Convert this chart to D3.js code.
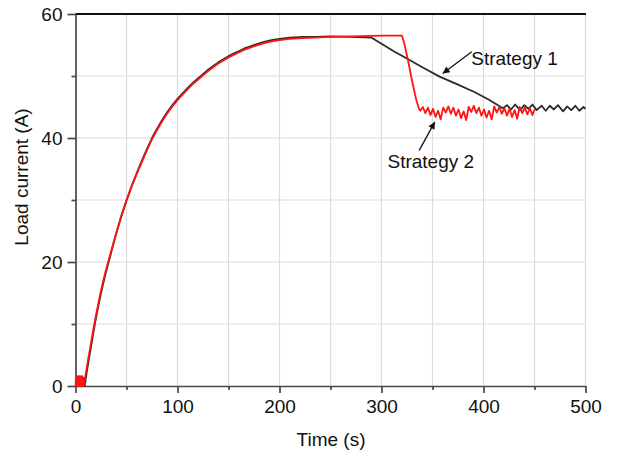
<!DOCTYPE html>
<html>
<head>
<meta charset="utf-8">
<script src="https://cdn.jsdelivr.net/npm/d3@7"></script>
<style>
  body { margin: 0; background: #fff; }
  svg { display: block; }
  text { font-family: "Liberation Sans", Arial, sans-serif; fill: #111; }
</style>
</head>
<body>
<svg id="chart" width="621" height="453"></svg>
<script>
// Axis ticks and grid
const xTicks = [0, 100, 200, 300, 400, 500];
const xMinorTicks = [50, 150, 250, 350, 450];
const yTicks = [0, 20, 40, 60];
const yMinorTicks = [10, 30, 50];
const xGridLines = [50, 100, 150, 200, 250, 300, 350, 400, 450, 500];
const yGridLines = [10, 20, 30, 40, 50];

// Strategy 1: time (s) and load current (A)
const s1Time = [
  0, 2, 2.5, 8, 9, 11, 13, 15, 17, 19, 22, 25, 29, 33, 37, 41, 45, 50, 55, 60,
  65, 70, 75, 80, 85, 90, 95, 100, 105, 110, 115, 120, 125, 130, 135, 140, 145, 150,
  155, 160, 165, 170, 177, 185, 192, 200, 210, 223, 235, 249, 270, 290,
  300, 312, 324, 340, 357, 375, 390, 405, 419,
  423, 427, 431, 436, 440, 444, 448, 452, 457, 461, 465, 469, 473, 478, 482,
  486, 490, 494, 498, 500
];
const s1Current = [
  0, 0, 1.3, 1.3, 0, 2.2, 4.2, 6.1, 8.1, 10.0, 12.6, 15.0, 17.8, 20.3, 22.8, 25.2, 27.4, 29.9, 32.2, 34.3,
  36.3, 38.2, 40.0, 41.5, 42.9, 44.2, 45.3, 46.3, 47.2, 48.1, 48.9, 49.6, 50.3, 51.0, 51.6, 52.2, 52.7, 53.2,
  53.6, 54.0, 54.4, 54.7, 55.1, 55.5, 55.8, 56.0, 56.2, 56.3, 56.3, 56.4, 56.3, 56.2,
  55.2, 54.0, 52.9, 51.4, 49.9, 48.6, 47.5, 46.2, 44.8,
  45.3, 44.6, 45.4, 44.5, 45.3, 44.7, 45.4, 44.5, 45.2, 44.4, 45.2, 44.6, 45.3, 44.3, 45.1,
  44.5, 45.2, 44.4, 45.0, 44.7
];

// Strategy 2: time (s) and load current (A)
const s2Time = [
  0, 0.6, 1.2, 1.8, 2.4, 3.0, 3.6, 4.2, 4.8, 5.4, 6.0, 6.6, 7.2, 8,
  10, 12, 14, 16, 18, 20, 22, 25, 29, 33, 37, 41, 45, 50, 55, 60,
  65, 70, 75, 80, 85, 90, 95, 100, 105, 110, 115, 120, 125, 130, 135, 140, 145, 150,
  155, 160, 165, 170, 177, 185, 192, 200, 210, 223, 235, 249,
  270, 300, 320, 322, 326, 330, 334, 337,
  338, 340.5, 343, 345.5, 348, 350.5, 353, 355.5, 358, 360.5, 363, 365.5, 368, 370.5,
  373, 375.5, 378, 380.5, 383, 385.5, 388, 390.5, 393, 395.5, 398, 400.5, 403, 405.5,
  408, 410.5, 413, 415.5, 418, 420.5, 423, 425.5, 428, 430.5, 433, 435.5, 438, 440.5,
  443, 445.5, 448, 450
];
const s2Current = [
  0, 1.6, 0, 1.6, 0, 1.6, 0, 1.6, 0, 1.6, 0, 1.6, 0, 0,
  1.9, 3.9, 5.8, 7.7, 9.6, 11.4, 13.0, 15.4, 18.2, 20.6, 23.0, 25.3, 27.5, 30.0, 32.2, 34.2,
  36.1, 38.0, 39.8, 41.3, 42.7, 44.0, 45.1, 46.1, 47.0, 47.9, 48.7, 49.4, 50.1, 50.8, 51.4, 52.0, 52.5, 53.0,
  53.4, 53.8, 54.2, 54.5, 54.9, 55.3, 55.6, 55.8, 56.0, 56.1, 56.2, 56.3,
  56.4, 56.5, 56.5, 55.5, 52.5, 49.2, 46.2, 44.6,
  44.4, 45.0, 44.0, 44.9, 43.7, 44.7, 43.4, 44.4, 43.0, 44.9, 44.1, 45.1, 43.9, 44.9,
  43.6, 44.6, 43.2, 44.3, 42.9, 45.0, 44.2, 45.2, 44.0, 44.9, 43.6, 44.6, 43.3, 44.4,
  43.0, 45.1, 44.1, 45.0, 43.9, 44.8, 43.6, 44.7, 43.4, 44.5, 43.1, 45.0, 44.0, 44.9,
  43.8, 44.8, 43.7, 44.6
];

// Callout labels: text anchor and arrow from/to, in data units
const calloutLabels = ["Strategy 1", "Strategy 2"];
const calloutText = [[388, 51.8], [348.3, 35.1]];
const calloutFrom = [[388.5, 53.9], [337, 38.0]];
const calloutTo = [[360, 50.4], [352.3, 42.6]];

const svg = d3.select("#chart");
const x = d3.scaleLinear().domain([0, 500]).range([75.5, 585.5]);
const y = d3.scaleLinear().domain([0, 60]).range([386, 14]);

// Grid
const grid = svg.append("g").attr("stroke", "#dcdcdc").attr("stroke-width", 1.2);
grid.selectAll("line.v").data(xGridLines).join("line")
  .attr("x1", d => x(d)).attr("x2", d => x(d))
  .attr("y1", y(0)).attr("y2", y(60));
grid.selectAll("line.h").data(yGridLines).join("line")
  .attr("x1", x(0)).attr("x2", x(500))
  .attr("y1", d => y(d)).attr("y2", d => y(d));

// Axes
const axisColor = "#474747";
function styleAxis(g) {
  g.selectAll("path, line").attr("stroke", axisColor).attr("stroke-width", 1.7);
  g.selectAll("text").attr("font-size", 19).attr("fill", "#111")
    .style("font-family", '"Liberation Sans", Arial, sans-serif');
}
svg.append("g").attr("transform", `translate(0,${y(0)})`)
  .call(d3.axisBottom(x).tickValues(xTicks).tickSize(7).tickSizeOuter(0).tickPadding(7))
  .call(styleAxis);
svg.append("g").attr("transform", `translate(0,${y(0)})`)
  .call(d3.axisBottom(x).tickValues(xMinorTicks).tickSize(4).tickFormat(""))
  .call(g => g.select(".domain").remove())
  .call(styleAxis);
svg.append("g").attr("transform", `translate(${x(0)},0)`)
  .call(d3.axisLeft(y).tickValues(yTicks).tickSize(8).tickSizeOuter(0).tickPadding(5))
  .call(styleAxis);
svg.append("g").attr("transform", `translate(${x(0)},0)`)
  .call(d3.axisLeft(y).tickValues(yMinorTicks).tickSize(4).tickFormat(""))
  .call(g => g.select(".domain").remove())
  .call(styleAxis);

// Top frame line
svg.append("line")
  .attr("x1", x(0)).attr("x2", x(500) + 0.5)
  .attr("y1", y(60)).attr("y2", y(60))
  .attr("stroke", "#111").attr("stroke-width", 2);

// Series
const line = d3.line().x(d => x(d[0])).y(d => y(d[1]));
const s1 = s1Time.map((t, i) => [t, s1Current[i]]);
const s2 = s2Time.map((t, i) => [t, s2Current[i]]);
svg.append("path").datum(s1).attr("d", line)
  .attr("fill", "none").attr("stroke", "#2b2b2b").attr("stroke-width", 1.8)
  .attr("stroke-linejoin", "round");
svg.append("path").datum(s2).attr("d", line)
  .attr("fill", "none").attr("stroke", "#ff1414").attr("stroke-width", 1.8)
  .attr("stroke-linejoin", "round");

// Arrow marker
svg.append("defs").append("marker")
  .attr("id", "arrowhead").attr("viewBox", "0 0 10 10")
  .attr("refX", 10).attr("refY", 5)
  .attr("markerWidth", 10).attr("markerHeight", 7)
  .attr("markerUnits", "userSpaceOnUse")
  .attr("orient", "auto")
  .append("path").attr("d", "M0,0 L10,5 L0,10 Z").attr("fill", "#111");

calloutLabels.forEach((label, i) => {
  svg.append("line")
    .attr("x1", x(calloutFrom[i][0])).attr("y1", y(calloutFrom[i][1]))
    .attr("x2", x(calloutTo[i][0])).attr("y2", y(calloutTo[i][1]))
    .attr("stroke", "#111").attr("stroke-width", 1.3)
    .attr("marker-end", "url(#arrowhead)");
  svg.append("text")
    .attr("x", x(calloutText[i][0])).attr("y", y(calloutText[i][1]))
    .attr("text-anchor", i === 0 ? "start" : "middle")
    .attr("font-size", 19)
    .text(label);
});

// Axis titles
svg.append("text")
  .attr("x", 331).attr("y", 446)
  .attr("text-anchor", "middle").attr("font-size", 19)
  .text("Time (s)");
svg.append("text")
  .attr("transform", "translate(28,177) rotate(-90)")
  .attr("text-anchor", "middle").attr("font-size", 19)
  .text("Load current (A)");
</script>
</body>
</html>
